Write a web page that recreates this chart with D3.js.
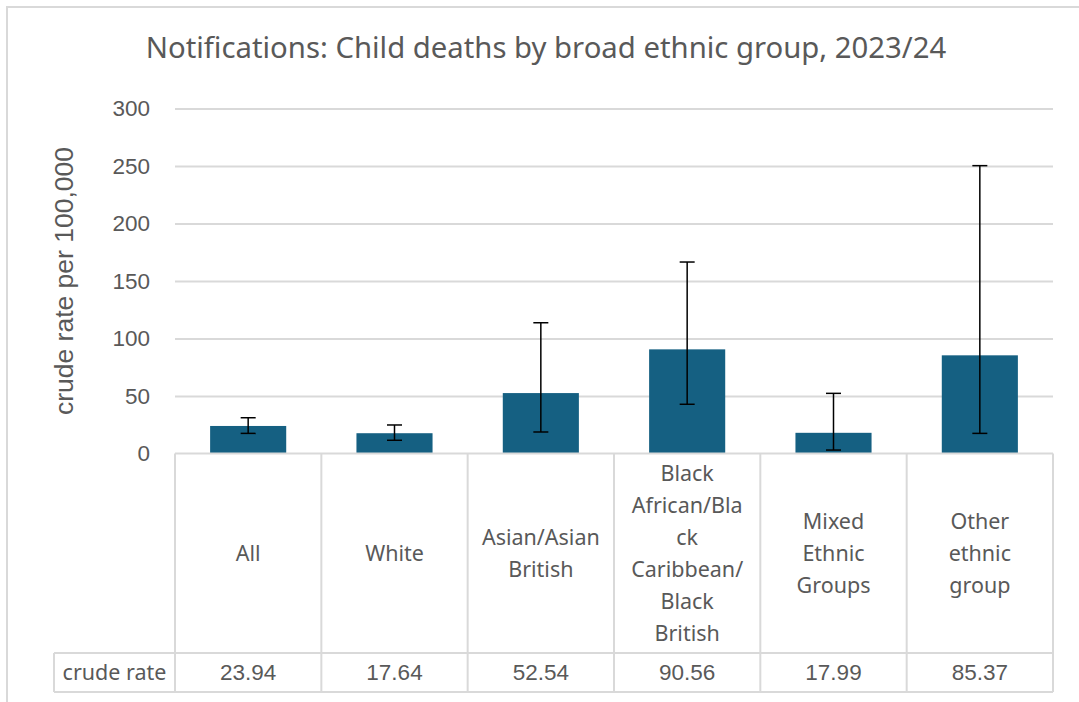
<!DOCTYPE html>
<html>
<head>
<meta charset="utf-8">
<script src="https://cdn.jsdelivr.net/npm/d3@7"></script>
<style>
  html, body { margin: 0; padding: 0; background: #fff; }
  svg { display: block; }
</style>
</head>
<body>
<svg id="chart" width="1079" height="702"></svg>
<script>
// ---- data ----
const title = "Notifications: Child deaths by broad ethnic group, 2023/24";
const yAxisTitle = "crude rate per 100,000";
const categories = ["All", "White", "Asian/Asian British", "Black African/Black Caribbean/Black British", "Mixed Ethnic Groups", "Other ethnic group"];
const categoryLines = [
  ["All"],
  ["White"],
  ["Asian/Asian", "British"],
  ["Black", "African/Bla", "ck", "Caribbean/", "Black", "British"],
  ["Mixed", "Ethnic", "Groups"],
  ["Other", "ethnic", "group"]
];
const crudeRate = [23.94, 17.64, 52.54, 90.56, 17.99, 85.37];
const lowerCI = [17.5, 11.5, 18.7, 42.8, 3.0, 17.5];
const upperCI = [31.1, 24.8, 113.7, 166.5, 52.3, 250.3];
const yTicks = [0, 50, 100, 150, 200, 250, 300];
const rowHeader = "crude rate";

// ---- layout ----
const svg = d3.select("#chart");
const grey = "#595959";
const lineGrey = "#d9d9d9";
const barColor = "#156082";

const plotLeft = 175, plotRight = 1053, plotTop = 108.5, plotBottom = 453.5;
const tableBottomCat = 653, tableBottom = 692, headerLeft = 54;

const x = d3.scaleBand().domain(categories).range([plotLeft, plotRight]).padding(0);
const y = d3.scaleLinear().domain([0, 300]).range([plotBottom, plotTop]);
const barW = x.bandwidth() * 0.52;

// outer frame
svg.append("rect").attr("x", 7).attr("y", 7).attr("width", 1100).attr("height", 720)
  .attr("fill", "none").attr("stroke", lineGrey).attr("stroke-width", 2);

// title
svg.append("text").attr("x", 546).attr("y", 58).attr("text-anchor", "middle")
  .attr("font-family", "'Noto Sans', sans-serif").attr("font-size", 29.3).attr("fill", grey)
  .text(title);

// gridlines
const yAxis = d3.axisLeft(y).tickValues(yTicks).tickSize(-(plotRight - plotLeft)).tickPadding(25);
const gy = svg.append("g").attr("transform", `translate(${plotLeft},0)`).call(yAxis);
gy.select(".domain").remove();
gy.selectAll(".tick line").attr("stroke", lineGrey).attr("stroke-width", 2);
gy.selectAll(".tick text").attr("font-family", "'Liberation Sans', Arial, sans-serif")
  .attr("font-size", 22.5).attr("fill", grey);
gy.selectAll(".tick").filter(d => d === 0).select("line").remove();

// y title
svg.append("text").attr("transform", `translate(73,281) rotate(-90)`).attr("text-anchor", "middle")
  .attr("font-family", "'Liberation Sans', Arial, sans-serif").attr("font-size", 26.5).attr("fill", grey)
  .text(yAxisTitle);

// bars
svg.append("g").selectAll("rect").data(categories).join("rect")
  .attr("x", d => x(d) + (x.bandwidth() - barW) / 2)
  .attr("y", (d, i) => y(crudeRate[i]))
  .attr("width", barW)
  .attr("height", (d, i) => y(0) - y(crudeRate[i]))
  .attr("fill", barColor);

// error bars
const eb = svg.append("g").attr("stroke", "#000").attr("stroke-width", 1.5);
categories.forEach((c, i) => {
  const cx = x(c) + x.bandwidth() / 2;
  eb.append("line").attr("x1", cx).attr("x2", cx).attr("y1", y(lowerCI[i])).attr("y2", y(upperCI[i]));
  [lowerCI[i], upperCI[i]].forEach(v => {
    eb.append("line").attr("x1", cx - 7.5).attr("x2", cx + 7.5).attr("y1", y(v)).attr("y2", y(v));
  });
});

// data table
const tbl = svg.append("g").attr("stroke", lineGrey).attr("stroke-width", 2).attr("fill", "none");
tbl.append("line").attr("x1", plotLeft).attr("x2", plotRight).attr("y1", plotBottom).attr("y2", plotBottom);
const edges = categories.map(c => x(c)).concat([plotRight]);
edges.forEach(ex => {
  tbl.append("line").attr("x1", ex).attr("x2", ex).attr("y1", plotBottom).attr("y2", tableBottom);
});
tbl.append("line").attr("x1", headerLeft).attr("x2", plotRight).attr("y1", tableBottomCat).attr("y2", tableBottomCat);
tbl.append("line").attr("x1", headerLeft).attr("x2", plotRight).attr("y1", tableBottom).attr("y2", tableBottom);
tbl.append("line").attr("x1", headerLeft).attr("x2", headerLeft).attr("y1", tableBottomCat).attr("y2", tableBottom);

// category labels
const lineH = 32;
const catMid = (plotBottom + tableBottomCat) / 2;
categories.forEach((c, i) => {
  const lines = categoryLines[i];
  const cx = x(c) + x.bandwidth() / 2;
  const t = svg.append("text").attr("text-anchor", "middle")
    .attr("font-family", "'Noto Sans', sans-serif").attr("font-size", 21.5).attr("fill", grey);
  lines.forEach((ln, k) => {
    t.append("tspan").attr("x", cx)
      .attr("y", catMid + (k - (lines.length - 1) / 2) * lineH)
      .attr("dy", "0.35em").text(ln);
  });
});

// row header + values
const rowMid = (tableBottomCat + tableBottom) / 2;
svg.append("text").attr("x", (headerLeft + plotLeft) / 2).attr("y", rowMid).attr("dy", "0.35em")
  .attr("text-anchor", "middle").attr("font-family", "'Noto Sans', sans-serif")
  .attr("font-size", 21.5).attr("fill", grey).text(rowHeader);
svg.append("g").selectAll("text").data(categories).join("text")
  .attr("x", d => x(d) + x.bandwidth() / 2).attr("y", rowMid).attr("dy", "0.35em")
  .attr("text-anchor", "middle").attr("font-family", "'Liberation Sans', Arial, sans-serif")
  .attr("font-size", 22.5).attr("fill", grey)
  .text((d, i) => crudeRate[i].toFixed(2));
</script>
</body>
</html>
